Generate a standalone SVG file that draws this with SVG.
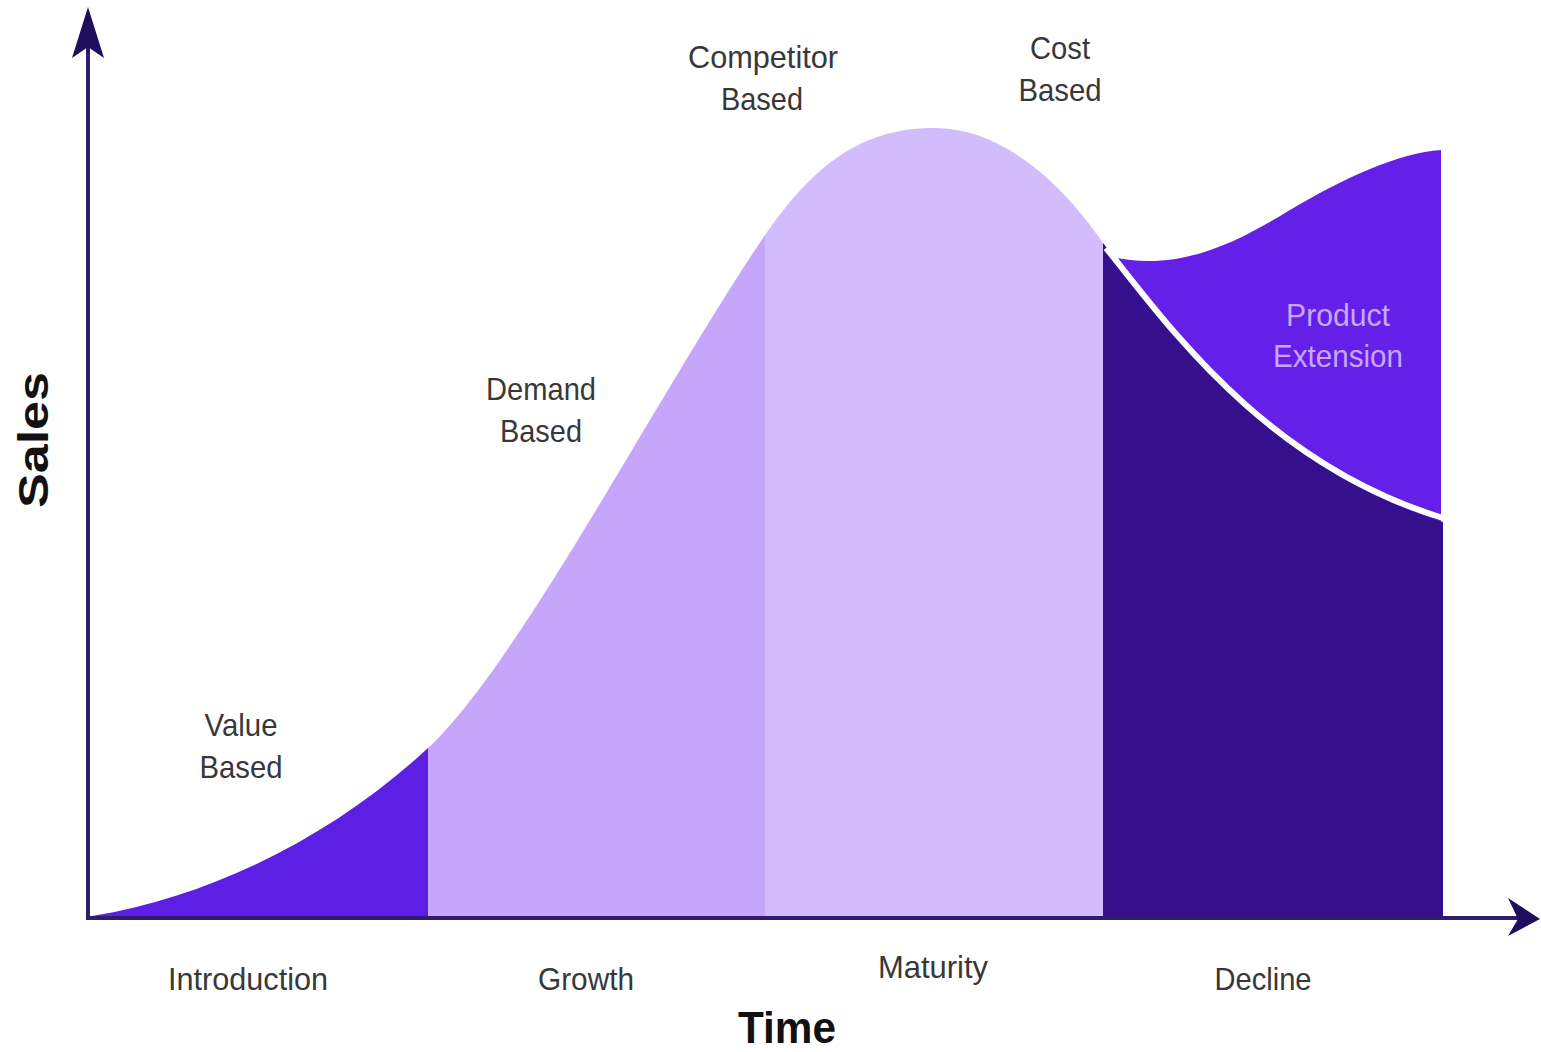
<svg xmlns="http://www.w3.org/2000/svg" width="1541" height="1052" viewBox="0 0 1541 1052">
  <defs>
    <style>
      .lbl { font-family: "Liberation Sans", Arial, sans-serif; font-size: 32px; fill: #383838; text-anchor: middle; }
      .ext { font-family: "Liberation Sans", Arial, sans-serif; font-size: 32px; fill: #c9a6ff; text-anchor: middle; }
      .ttl { font-family: "Liberation Sans", Arial, sans-serif; font-weight: bold; fill: #111111; text-anchor: middle; }
      .axis { stroke: #2f1c70; stroke-width: 4; fill: none; }
      .head { fill: #1f0e5e; }
    </style>
  </defs>
  <rect width="1541" height="1052" fill="#ffffff"/>

  <g id="stage-introduction">
    <path d="M92,916 C220,895 340,830 428,748 L428,916 Z" fill="#5c1fe3"/>
  </g>
  <g id="stage-growth">
    <path d="M428,748 C520,662 660,390 765,235 L765,916 L428,916 Z" fill="#c5a6fb"/>
  </g>
  <g id="stage-maturity">
    <path d="M765,235 C820,155 870,128 935,128 C1000,128 1060,180 1103,243 L1103,916 L765,916 Z" fill="#d3bcfc"/>
  </g>
  <g id="product-extension">
    <path d="M1108,256 C1180,274 1240,240 1290,210 S1400,152 1441,150 L1441,620 L1108,620 Z" fill="#6420e8"/>
  </g>
  <g id="stage-decline">
    <path d="M1103,243 C1160,315 1260,465 1443,522 L1443,916 L1103,916 Z" fill="#36108c"/>
    <path d="M1106,248 C1163,318 1262,463 1443,518" fill="none" stroke="#ffffff" stroke-width="6"/>
  </g>

  <g id="connectors">
    <line class="axis" x1="88" y1="918" x2="88" y2="40"/>
    <path class="head" d="M88,7 L104,58 L88,47 L72,58 Z"/>
    <line class="axis" x1="86" y1="918" x2="1520" y2="918"/>
    <path class="head" d="M1540,919 L1508,936 L1518,919 L1508,898 Z"/>
  </g>

  <g id="labels-pricing">
    <text class="lbl" x="241" y="736" textLength="73" lengthAdjust="spacingAndGlyphs">Value</text>
    <text class="lbl" x="241" y="778" textLength="83" lengthAdjust="spacingAndGlyphs">Based</text>
    <text class="lbl" x="541" y="400" textLength="110" lengthAdjust="spacingAndGlyphs">Demand</text>
    <text class="lbl" x="541" y="442" textLength="82" lengthAdjust="spacingAndGlyphs">Based</text>
    <text class="lbl" x="763" y="68" textLength="150" lengthAdjust="spacingAndGlyphs">Competitor</text>
    <text class="lbl" x="762" y="110" textLength="82" lengthAdjust="spacingAndGlyphs">Based</text>
    <text class="lbl" x="1060" y="59" textLength="60" lengthAdjust="spacingAndGlyphs">Cost</text>
    <text class="lbl" x="1060" y="101" textLength="83" lengthAdjust="spacingAndGlyphs">Based</text>
    <text class="ext" x="1338" y="326" textLength="104" lengthAdjust="spacingAndGlyphs">Product</text>
    <text class="ext" x="1338" y="367" textLength="130" lengthAdjust="spacingAndGlyphs">Extension</text>
  </g>

  <g id="labels-stages">
    <text class="lbl" x="248" y="990" textLength="160" lengthAdjust="spacingAndGlyphs">Introduction</text>
    <text class="lbl" x="586" y="990" textLength="96" lengthAdjust="spacingAndGlyphs">Growth</text>
    <text class="lbl" x="933" y="978" textLength="110" lengthAdjust="spacingAndGlyphs">Maturity</text>
    <text class="lbl" x="1263" y="990" textLength="97" lengthAdjust="spacingAndGlyphs">Decline</text>
  </g>

  <g id="axis-titles">
    <text class="ttl" x="787" y="1043" font-size="44" textLength="98" lengthAdjust="spacingAndGlyphs">Time</text>
    <text class="ttl" transform="translate(48,440) rotate(-90)" x="0" y="0" font-size="42" textLength="136" lengthAdjust="spacingAndGlyphs">Sales</text>
  </g>
</svg>
